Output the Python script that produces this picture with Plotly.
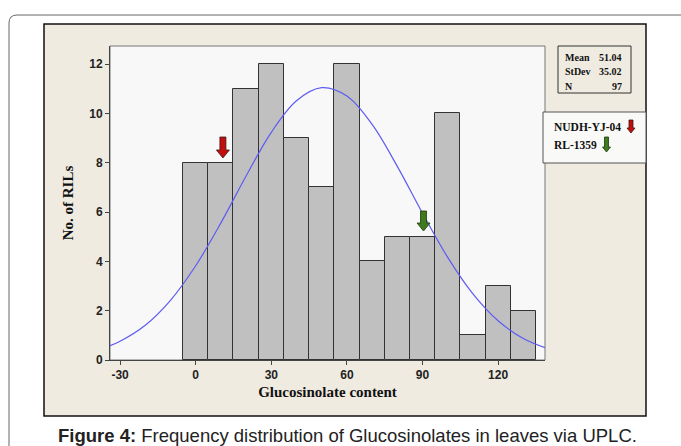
import plotly.graph_objects as go

# ---- data ----
bin_centers = [0, 10, 20, 30, 40, 50, 60, 70, 80, 90, 100, 110, 120, 130]
counts = [8, 8, 11, 12, 9, 7, 12, 4, 5, 5, 10, 1, 3, 2]
curve_x = [-34, -30, -20, -10, 0, 10, 20, 30, 40, 50, 60, 70, 80, 90, 100, 110, 120, 130, 138.6]
curve_y = [0.58, 0.76, 1.41, 2.42, 3.82, 5.56, 7.46, 9.23, 10.51, 11.04, 10.70, 9.55, 7.85, 5.95, 4.16, 2.68, 1.59, 0.87, 0.50]
stats_labels = ["Mean", "StDev", "N"]
stats_values = ["51.04", "35.02", "97"]
x_ticks = [-30, 0, 30, 60, 90, 120]
x_tick_labels = ["-30", "0", "30", "60", "90", "120"]
y_ticks = [0, 2, 4, 6, 8, 10, 12]
marked_lines = ["NUDH-YJ-04", "RL-1359"]
marked_x = [10.8, 90.4]
caption_bold = "Figure 4:"
caption_rest = " Frequency distribution of Glucosinolates in leaves via UPLC."

W, H = 681, 446
L, R, T, B = 110, 545, 46, 360  # plot area in pixels
XMIN, XMAX = -34, 138.6
YMAX = 12.73


def px(p):
    return (p - L) / (R - L)


def py(p):
    return (B - p) / (B - T)


fig = go.Figure()
fig.add_trace(go.Bar(
    x=bin_centers, y=counts, width=10,
    marker=dict(color="#c0c0c0", line=dict(color="#333333", width=1)),
    showlegend=False, hoverinfo="x+y"))
fig.add_trace(go.Scatter(
    x=curve_x, y=curve_y, mode="lines", line=dict(color="#5c5cf2", width=1.2, shape="spline"),
    showlegend=False))

shapes = []
# outer rounded frame
rx, ry = 8 / (R - L), 8 / (B - T)
x0, y0 = px(9), py(15)
shapes.append(dict(type="path", xref="paper", yref="paper", layer="below",
                   path=f"M {x0},{py(460)} L {x0},{y0 - ry} Q {x0},{y0} {x0 + rx},{y0} L {px(700)},{y0}",
                   line=dict(color="#666666", width=1)))
# beige panel
shapes.append(dict(type="rect", xref="paper", yref="paper", layer="below",
                   x0=px(44), x1=px(646), y0=py(416), y1=py(24),
                   fillcolor="#efebe0", line=dict(color="#111111", width=1.5)))
# plot background
shapes.append(dict(type="rect", xref="paper", yref="paper", layer="below",
                   x0=0, x1=1, y0=0, y1=1,
                   fillcolor="#f8f8f8", line=dict(color="#777777", width=1)))
# stats box
shapes.append(dict(type="rect", xref="paper", yref="paper", layer="above",
                   x0=px(558), x1=px(631), y0=py(93), y1=py(46),
                   fillcolor="#efebe0", line=dict(color="#333333", width=1)))
# marker legend box
shapes.append(dict(type="rect", xref="paper", yref="paper", layer="above",
                   x0=px(543), x1=px(646), y0=py(163), y1=py(112),
                   fillcolor="#f9f9f7", line=dict(color="#555555", width=1)))


def arrow(cx, top, bot, hw_shaft, hw_head, head_h, color):
    pts = [(cx - hw_shaft, top), (cx + hw_shaft, top), (cx + hw_shaft, bot - head_h),
           (cx + hw_head, bot - head_h), (cx, bot), (cx - hw_head, bot - head_h),
           (cx - hw_shaft, bot - head_h)]
    path = "M " + " L ".join(f"{px(a):.5f},{py(b):.5f}" for a, b in pts) + " Z"
    return dict(type="path", xref="paper", yref="paper", layer="above", path=path,
                fillcolor=color, line=dict(color="#3a1a1a" if color.startswith("#c") else "#1e3a10", width=0.8))


def xpix(v):
    return L + (v - XMIN) / (XMAX - XMIN) * (R - L)


# arrows over marked bars
shapes.append(arrow(xpix(marked_x[0]), 137, 158, 3, 6.5, 8, "#c40d0d"))
shapes.append(arrow(xpix(marked_x[1]), 211, 231, 3, 6.5, 8, "#3f7a1c"))
# legend arrows
shapes.append(arrow(631, 120, 133, 2, 4, 5, "#c40d0d"))
shapes.append(arrow(606.5, 137, 152, 2, 4, 5, "#3f7a1c"))

annotations = []
tfont = dict(family="Liberation Serif, Times New Roman, serif", size=10, color="#111111")
for i, (lab, val) in enumerate(zip(stats_labels, stats_values)):
    yy = py(57 + i * 14.5)
    annotations.append(dict(xref="paper", yref="paper", x=px(563), y=yy, text=f"<b>{lab}</b>",
                            showarrow=False, xanchor="left", yanchor="middle", font=tfont))
    annotations.append(dict(xref="paper", yref="paper", x=px(624), y=yy, text=f"<b>{val}</b>",
                            showarrow=False, xanchor="right", yanchor="middle", font=tfont))
lfont = dict(family="Liberation Serif, Times New Roman, serif", size=11.5, color="#111111")
annotations.append(dict(xref="paper", yref="paper", x=px(552), y=py(127), text=f"<b>{marked_lines[0]}</b>",
                        showarrow=False, xanchor="left", yanchor="middle", font=lfont))
annotations.append(dict(xref="paper", yref="paper", x=px(552), y=py(145), text=f"<b>{marked_lines[1]}</b>",
                        showarrow=False, xanchor="left", yanchor="middle", font=lfont))
annotations.append(dict(xref="paper", yref="paper", x=px(56), y=py(435),
                        text=f"<b>{caption_bold}</b>{caption_rest}",
                        showarrow=False, xanchor="left", yanchor="middle",
                        font=dict(family="Liberation Sans, Arial, sans-serif", size=18.5, color="#222222")))

fig.update_layout(
    width=W, height=H, autosize=False,
    margin=dict(l=L, r=W - R, t=T, b=H - B, pad=0),
    paper_bgcolor="white", plot_bgcolor="rgba(0,0,0,0)",
    bargap=0, shapes=shapes, annotations=annotations,
    xaxis=dict(range=[XMIN, XMAX], tickvals=x_ticks, ticktext=x_tick_labels,
               ticks="outside", ticklen=4, tickcolor="#444",
               showgrid=False, zeroline=False, showline=True, linecolor="#444", linewidth=1,
               tickfont=dict(family="Liberation Sans, Arial, sans-serif", size=12, color="#222", weight="bold"),
               title=dict(text="<b>Glucosinolate content</b>", standoff=5,
                          font=dict(family="Liberation Serif, Times New Roman, serif", size=15, color="#111"))),
    yaxis=dict(range=[0, YMAX], tickvals=y_ticks, ticks="outside", ticklen=4, tickcolor="#444",
               showgrid=False, zeroline=False, showline=True, linecolor="#444", linewidth=1,
               tickfont=dict(family="Liberation Sans, Arial, sans-serif", size=12, color="#222", weight="bold"),
               title=dict(text="<b>No. of RILs</b>", standoff=11,
                          font=dict(family="Liberation Serif, Times New Roman, serif", size=15, color="#111"))),
)

fig.write_html("out.html", config={"displayModeBar": False},
               post_script="document.body.style.margin='0';")
